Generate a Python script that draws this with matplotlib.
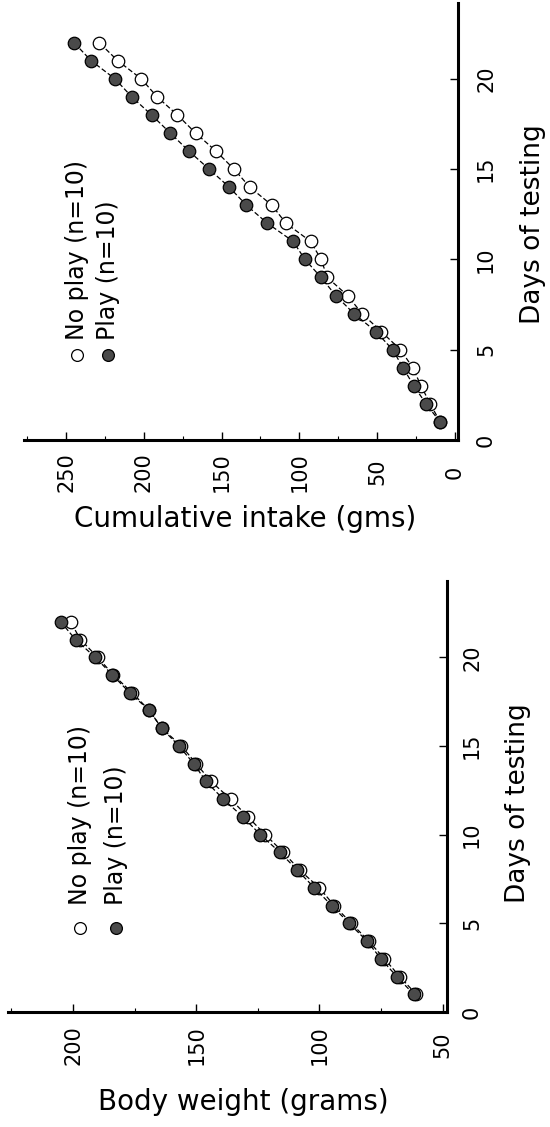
import matplotlib
matplotlib.use("Agg")
import matplotlib.pyplot as plt
from matplotlib.ticker import MultipleLocator

plt.rcParams['font.family'] = ['DejaVu Sans']

days = list(range(1, 23))

# Top panel: cumulative intake (gms)
intake_noplay = [9.5, 15.8, 21.8, 27.0, 35.0, 47.3, 59.7, 69.0, 82.0, 86.0, 92.8,
                 108.6, 117.6, 131.8, 142.0, 153.6, 166.7, 178.4, 191.4, 201.6, 216.7, 228.6]
intake_play = [9.5, 18.5, 26.4, 33.3, 40.0, 50.7, 64.9, 76.6, 86.0, 96.4, 104.0,
               120.5, 134.0, 145.0, 158.0, 171.0, 183.0, 195.0, 207.7, 218.5, 233.8, 244.8]

# Bottom panel: body weight (grams)
weight_noplay = [60.7, 67.4, 73.6, 80.0, 87.0, 94.0, 100.0, 108.0, 114.6, 122.0, 129.0,
                 136.0, 144.0, 150.0, 156.0, 164.0, 169.0, 176.0, 183.6, 190.0, 197.0, 201.0]
weight_play = [61.7, 68.6, 75.0, 80.7, 87.9, 95.0, 102.0, 109.0, 116.0, 124.0, 131.0,
               139.0, 146.0, 151.0, 157.0, 164.0, 169.0, 177.0, 184.0, 191.0, 199.0, 205.0]

labels = ["No play (n=10)", "Play (n=10)"]

W, H = 550, 1127
fig = plt.figure(figsize=(W / 100, H / 100), dpi=100)

def px_axes(left, right, top, bottom):
    return fig.add_axes([left / W, (H - bottom) / H, (right - left) / W, (bottom - top) / H])

FILL = '#4a4a4a'
PT = 0.72  # points per pixel at 100 dpi

def style(ax, xlim, ylim, xlabel, xpad_px, ypad_px, xlab_pos, ylab_pos):
    ax.set_xlim(*xlim)
    ax.set_ylim(*ylim)
    for s in ['top', 'left']:
        ax.spines[s].set_visible(False)
    for s in ['bottom', 'right']:
        ax.spines[s].set_linewidth(2.2)
    ax.yaxis.tick_right()
    ax.yaxis.set_label_position('right')
    ax.xaxis.set_major_locator(MultipleLocator(50))
    ax.xaxis.set_minor_locator(MultipleLocator(25))
    ax.yaxis.set_major_locator(MultipleLocator(5))
    ax.tick_params(axis='x', which='major', direction='in', length=6, width=1.0,
                   labelsize=15, labelrotation=90, pad=xpad_px * PT)
    ax.tick_params(axis='x', which='minor', direction='in', length=3, width=0.8)
    ax.tick_params(axis='y', which='major', direction='in', length=6, width=1.0,
                   labelsize=15, labelrotation=90, pad=ypad_px * PT)
    for t in ax.get_xticklabels():
        t.set_va('center')
        t.set_ha('center')
    for t in ax.get_yticklabels():
        t.set_va('center')
        t.set_ha('center')
    ax.set_xlabel(xlabel, fontsize=20, va='center', ha='center')
    ax.xaxis.set_label_coords(*xlab_pos)
    ax.set_ylabel("Days of testing", fontsize=19, rotation=90, va='center', ha='center')
    ax.yaxis.set_label_coords(*ylab_pos)

def draw(ax, noplay, play):
    ax.plot(noplay, days, linestyle=(0, (4, 2)), color='black', linewidth=0.9,
            marker='o', markersize=9, markerfacecolor='white', markeredgecolor='black',
            markeredgewidth=0.9, zorder=2)
    ax.plot(play, days, linestyle=(0, (4, 2)), color='black', linewidth=0.9,
            marker='o', markersize=9, markerfacecolor=FILL, markeredgecolor='black',
            markeredgewidth=0.9, zorder=3)

def legend(ax, x1, x2, ym, yt):
    ax.plot([x1], [ym], 'o', transform=ax.transAxes, markersize=8.5, markerfacecolor='white',
            markeredgecolor='black', markeredgewidth=0.9, clip_on=False)
    ax.plot([x2], [ym], 'o', transform=ax.transAxes, markersize=8.5, markerfacecolor=FILL,
            markeredgecolor='black', markeredgewidth=0.9, clip_on=False)
    ax.text(x1, yt, labels[0], transform=ax.transAxes, rotation=90, ha='center', va='bottom',
            fontsize=17)
    ax.text(x2, yt, labels[1], transform=ax.transAxes, rotation=90, ha='center', va='bottom',
            fontsize=17)

# Top panel
ax1 = px_axes(24, 458, 3, 440)
draw(ax1, intake_noplay, intake_play)
style(ax1, (277, -2), (0, 24.2), "Cumulative intake (gms)", 32, 28,
      (0.509, -0.181), (1.173, 0.494))
legend(ax1, 0.122, 0.194, 0.195, 0.228)

# Bottom panel
ax2 = px_axes(8, 447, 581, 1012)
draw(ax2, weight_noplay, weight_play)
style(ax2, (226.4, 48.2), (0, 24.3), "Body weight (grams)", 33, 25,
      (0.535, -0.209), (1.162, 0.485))
legend(ax2, 0.164, 0.246, 0.195, 0.248)

fig.savefig("out.png", dpi=100)
